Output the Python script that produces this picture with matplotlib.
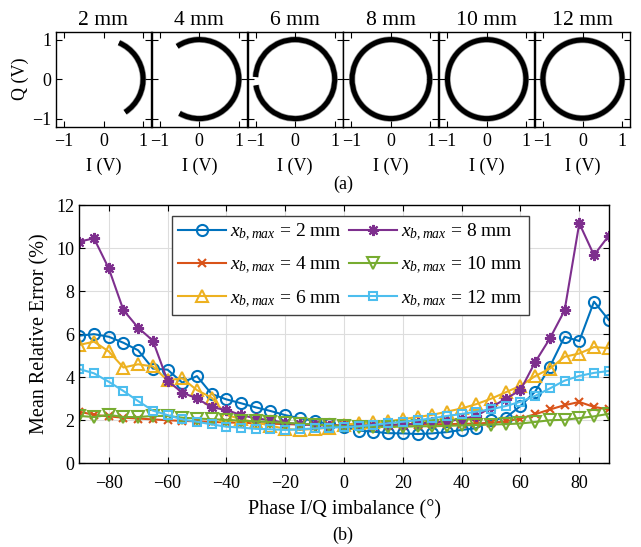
import numpy as np
import matplotlib
matplotlib.use('Agg')
import matplotlib.pyplot as plt
from matplotlib.patches import Arc

plt.rcParams['font.family'] = ['Liberation Serif', 'DejaVu Serif']
plt.rcParams['mathtext.fontset'] = 'custom'
plt.rcParams['mathtext.rm'] = 'Liberation Serif'
plt.rcParams['mathtext.it'] = 'Liberation Serif:italic'
plt.rcParams['font.size'] = 13

# (a) I/Q constellations for each displacement amplitude
gapLabels = ['2 mm', '4 mm', '6 mm', '8 mm', '10 mm', '12 mm']
arcStart = [-57, -120, -171, 0, 0, 0]     # deg
arcEnd = [67, 124, 177, 360, 360, 360]    # deg
arcWidth = [2.0, 2.0, 2.0, 1.96, 1.98, 2.0]
arcHeight = [2.0, 2.0, 2.0, 2.0, 2.0, 1.98]

# (b) mean relative error vs phase imbalance
phase = list(range(-90, 95, 5))
labels = ['2 mm', '4 mm', '6 mm', '8 mm', '10 mm', '12 mm']
err2 = [5.93, 6.0, 5.88, 5.6, 5.25, 4.4, 4.35, 3.75, 4.05, 3.22, 2.97, 2.79, 2.6,
        2.43, 2.24, 2.09, 1.97, 1.82, 1.7, 1.52, 1.47, 1.4, 1.39, 1.36, 1.39, 1.45,
        1.55, 1.63, 2.0, 2.12, 2.66, 3.33, 4.49, 5.88, 5.68, 7.51, 6.66]
err4 = [2.4, 2.25, 2.18, 2.12, 2.08, 2.04, 2.0, 1.97, 1.95, 1.92, 1.9, 1.88, 1.86,
        1.84, 1.82, 1.8, 1.78, 1.77, 1.76, 1.76, 1.77, 1.78, 1.79, 1.8, 1.81, 1.82,
        1.83, 1.85, 1.88, 1.95, 2.08, 2.28, 2.5, 2.7, 2.85, 2.62, 2.5]
err6 = [5.5, 5.65, 5.2, 4.45, 4.6, 4.5, 3.85, 3.95, 3.4, 3.05, 2.25, 2.05, 1.9,
        1.75, 1.6, 1.55, 1.6, 1.65, 1.8, 1.85, 1.9, 1.95, 2.05, 2.15, 2.25, 2.4,
        2.55, 2.75, 3.0, 3.3, 3.6, 4.05, 4.4, 4.95, 5.1, 5.4, 5.35]
err8 = [10.3, 10.45, 9.06, 7.12, 6.3, 5.7, 3.84, 3.28, 3.02, 2.6, 2.48, 2.24, 2.09,
        2.0, 1.88, 1.82, 1.78, 1.75, 1.73, 1.73, 1.75, 1.78, 1.8, 1.85, 1.9, 1.95,
        2.05, 2.2, 2.6, 3.0, 3.4, 4.7, 5.8, 7.1, 11.15, 9.67, 10.57]
err10 = [2.2, 2.15, 2.25, 2.15, 2.15, 2.2, 2.2, 2.12, 2.08, 2.05, 2.02, 1.98, 1.95,
         1.92, 1.88, 1.84, 1.8, 1.76, 1.72, 1.7, 1.7, 1.7, 1.7, 1.72, 1.72, 1.74,
         1.76, 1.78, 1.8, 1.82, 1.85, 1.92, 2.0, 2.02, 2.1, 2.18, 2.3]
err12 = [4.38, 4.18, 3.79, 3.36, 2.89, 2.45, 2.24, 2.04, 1.93, 1.81, 1.7, 1.66, 1.6,
         1.58, 1.55, 1.58, 1.62, 1.66, 1.68, 1.72, 1.78, 1.86, 1.93, 2.0, 2.09, 2.2,
         2.29, 2.4, 2.51, 2.66, 2.86, 3.13, 3.48, 3.84, 4.06, 4.2, 4.29]

colors = ['#0072BD', '#D95319', '#EDB120', '#7E2F8E', '#77AC30', '#4DBEEE']
markers = ['o', 'x', '^', (8, 2, 0), 'v', 's']
msizes = [8, 6, 9, 8, 9, 6]

W, H = 641, 547
fig = plt.figure(figsize=(W/100, H/100), dpi=100)


def addAxesPx(left, top, right, bottom):
    return fig.add_axes([left/W, 1 - bottom/H, (right - left)/W, (bottom - top)/H])


def matlabStyle(ax):
    ax.tick_params(direction='in', top=True, right=True, length=4, width=0.8)
    for s in ax.spines.values():
        s.set_linewidth(1.0)


# top row
boxW, gap = 95.0, 0.8
for i in range(6):
    l = 56 + i*(boxW + gap)
    ax = addAxesPx(l, 31.7, l + boxW, 126.5)
    ax.add_patch(Arc((0, 0), arcWidth[i], arcHeight[i], theta1=arcStart[i], theta2=arcEnd[i],
                     color='0.6', lw=4.6))
    ax.add_patch(Arc((0, 0), arcWidth[i], arcHeight[i], theta1=arcStart[i], theta2=arcEnd[i],
                     color='black', lw=3.6))
    ax.set_xlim(-1.2, 1.2)
    ax.set_ylim(-1.2, 1.2)
    ax.set_xticks([-1, 0, 1])
    ax.set_yticks([-1, 0, 1])
    matlabStyle(ax)
    ax.tick_params(axis='x', pad=5)
    ax.set_title(gapLabels[i], pad=5)
    ax.set_xlabel('I (V)', labelpad=5)
    if i == 0:
        ax.set_ylabel('Q (V)', labelpad=2)
    else:
        ax.set_yticklabels([])
fig.text(343/W, 1 - 184/H, '(a)', ha='center', va='center')

# bottom panel
ax = addAxesPx(79.3, 205, 608.7, 463.3)
series = [err2, err4, err6, err8, err10, err12]
for k in range(6):
    ax.plot(phase, series[k], color=colors[k], lw=1.5, marker=markers[k],
            ms=msizes[k], mfc='none', mec=colors[k], mew=1.5,
            label=r'$x_{b,max}$ = ' + labels[k])
ax.set_xlim(-90, 90)
ax.set_ylim(0, 12)
ax.set_xticks(range(-80, 90, 20))
ax.set_yticks(range(0, 13, 2))
ax.grid(True, color='#DDDDDD', lw=0.8)
ax.set_axisbelow(True)
matlabStyle(ax)
ax.tick_params(axis='x', pad=8.5)
ax.set_xlabel('Phase I/Q imbalance (°)', fontsize=14.5, labelpad=6)
ax.set_ylabel('Mean Relative Error (%)', fontsize=14.5, labelpad=5)
leg = ax.legend(ncol=2, loc='upper left', bbox_to_anchor=(172/W, 1 - 216/H),
                bbox_transform=fig.transFigure, borderaxespad=0, fancybox=False,
                framealpha=1, edgecolor='0.25', fontsize=14, handlelength=2.5,
                handletextpad=0.2, columnspacing=0.35, labelspacing=0.62,
                borderpad=0.3)
leg.get_frame().set_linewidth(1.0)
fig.text(343/W, 1 - 535/H, '(b)', ha='center', va='center')

fig.savefig('out.png', dpi=100)
